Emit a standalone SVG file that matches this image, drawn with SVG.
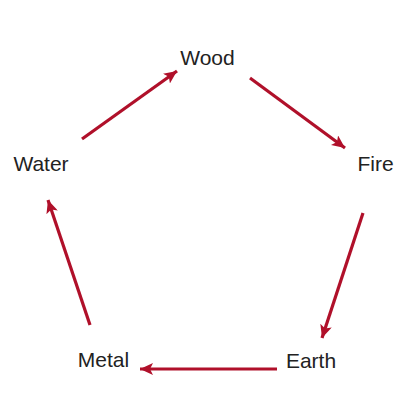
<svg xmlns="http://www.w3.org/2000/svg" width="413" height="413" viewBox="0 0 413 413">
<defs>
<marker id="ah" markerWidth="14" markerHeight="12" refX="13" refY="6" orient="auto" markerUnits="userSpaceOnUse">
<path d="M0,0 L13,6 L0,12 L3,6 Z" fill="#b0102a"/>
</marker>
</defs>
<style>
.lbl{font-family:"Liberation Sans",Arial,sans-serif;font-size:21px;fill:#222;text-anchor:middle}
.c line{stroke:#b0102a;stroke-width:3.2;fill:none;marker-end:url(#ah)}
</style>
<rect width="413" height="413" fill="#fff"/>
<g id="connectors" class="c">
<line x1="250" y1="78" x2="345" y2="148"/>
<line x1="363" y1="213" x2="322" y2="338"/>
<line x1="277" y1="369" x2="140" y2="369"/>
<line x1="90" y1="325" x2="48" y2="200"/>
<line x1="82" y1="139" x2="177" y2="71"/>
</g>
<g id="wood"><text class="lbl" x="207.5" y="65">Wood</text></g>
<g id="fire"><text class="lbl" x="375.5" y="171">Fire</text></g>
<g id="earth"><text class="lbl" x="311" y="368">Earth</text></g>
<g id="metal"><text class="lbl" x="103.5" y="367">Metal</text></g>
<g id="water"><text class="lbl" x="41" y="171">Water</text></g>
</svg>
